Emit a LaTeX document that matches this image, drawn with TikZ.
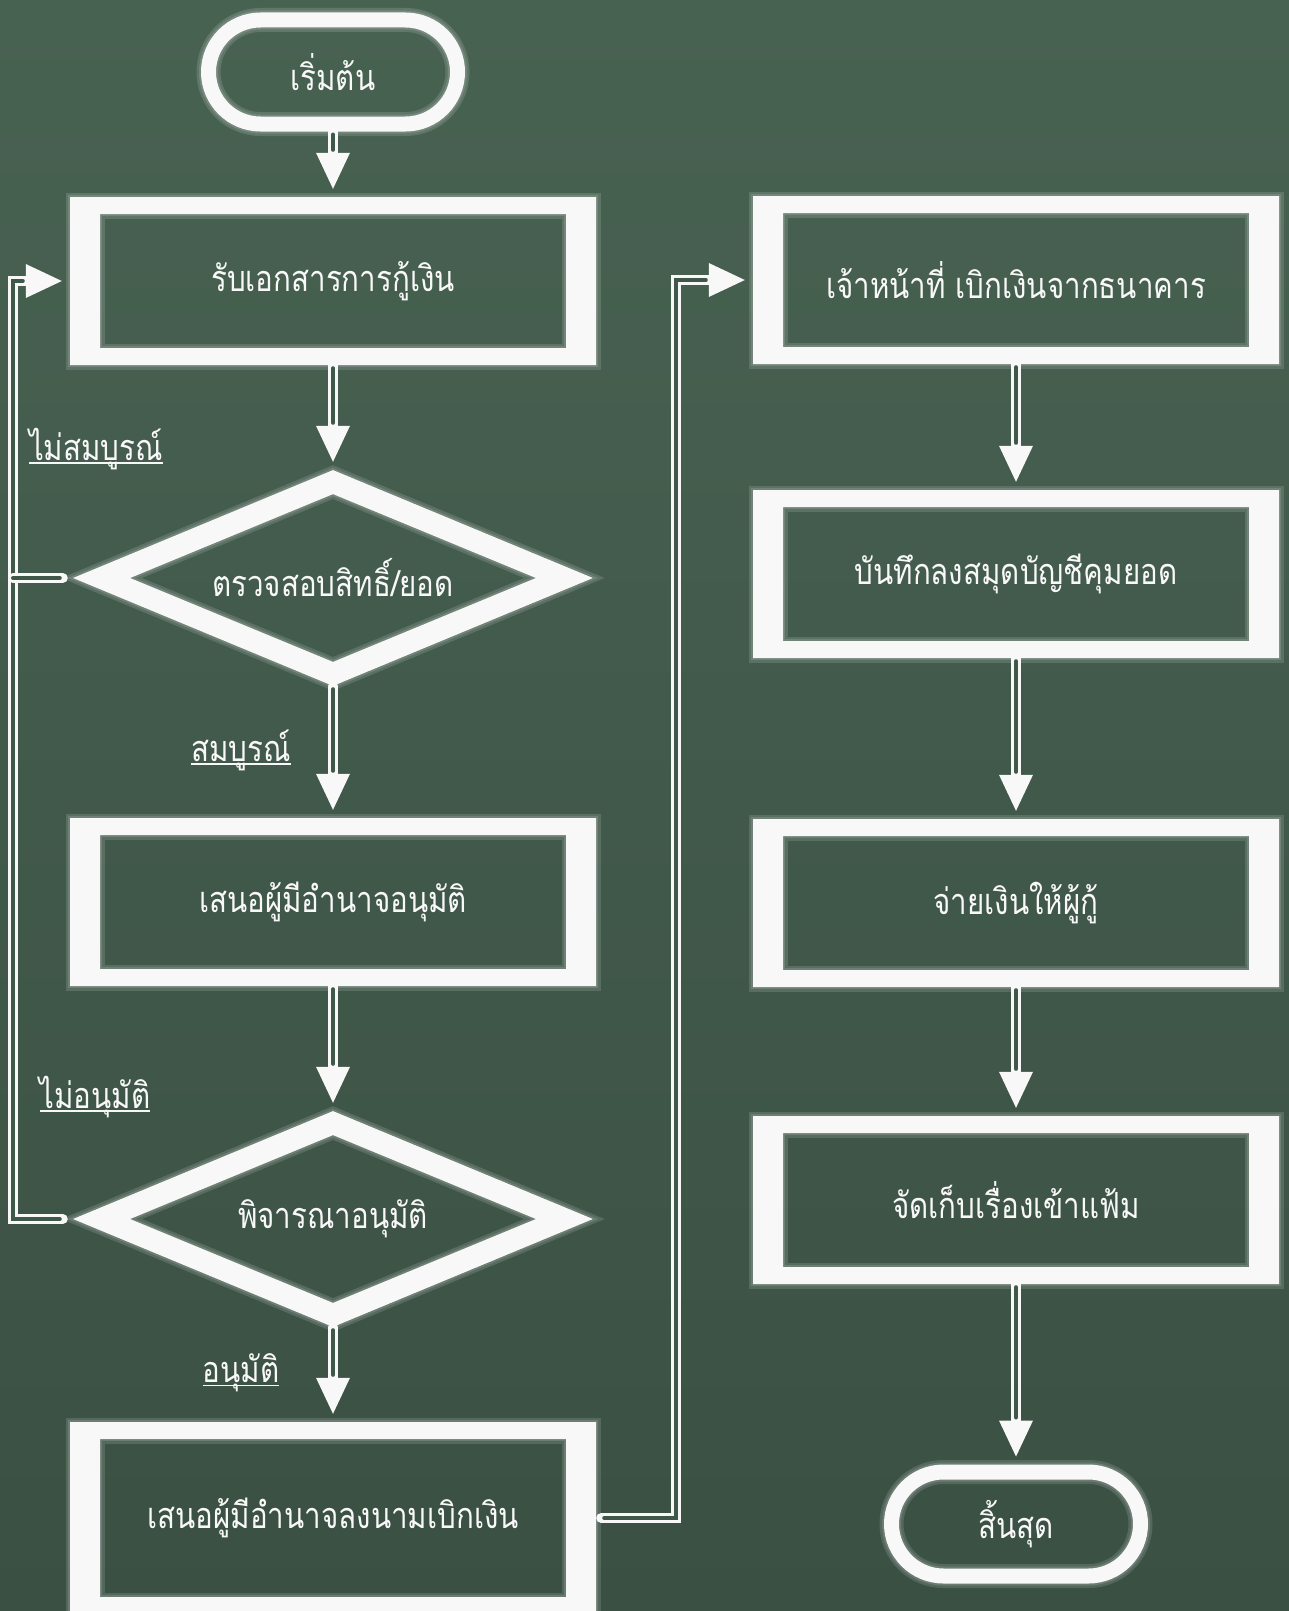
\documentclass[tikz,border=0pt]{standalone}
\usepackage{fontspec}
\newfontfamily\thaifont[Script=Thai,FakeStretch=0.82]{Loma}
\usetikzlibrary{shapes.geometric,arrows.meta}
\definecolor{board}{RGB}{64,88,74}
\definecolor{boardtop}{RGB}{72,98,82}
\definecolor{boardbot}{RGB}{58,80,67}
\definecolor{chalk}{RGB}{248,248,248}
\newcommand{\chalkul}[1]{\setbox0\hbox{#1}\rlap{\rule[-0.1em]{\wd0}{0.05em}}\box0}
\begin{document}
\begin{tikzpicture}[x=1pt,y=-1pt,
  every node/.style={font=\thaifont\fontsize{36}{40}\selectfont, text=chalk},
  halo/.style={draw=chalk, line width=#1, opacity=0.14},
  box/.style={rectangle, inner sep=0pt, minimum width=526pt, minimum height=168pt,
    preaction={halo=9pt}, preaction={halo=4pt},
    path picture={\fill[chalk,even odd rule]
      (path picture bounding box.north west) rectangle (path picture bounding box.south east)
      ([xshift=30pt,yshift=-17pt]path picture bounding box.north west) rectangle
      ([xshift=-30pt,yshift=17pt]path picture bounding box.south east);
      \foreach \w in {9pt,4pt}
      \draw[halo=\w]
      ([xshift=30pt,yshift=-17pt]path picture bounding box.north west) rectangle
      ([xshift=-30pt,yshift=17pt]path picture bounding box.south east);}},
  decision/.style={diamond, aspect=2.4, inner sep=0pt, minimum width=520pt, minimum height=216pt,
    preaction={halo=9pt}, preaction={halo=4pt},
    path picture={\fill[chalk,even odd rule]
      (path picture bounding box.north) -- (path picture bounding box.east) --
      (path picture bounding box.south) -- (path picture bounding box.west) -- cycle
      ([yshift=-24pt]path picture bounding box.north) -- ([xshift=-57pt]path picture bounding box.east) --
      ([yshift=24pt]path picture bounding box.south) -- ([xshift=57pt]path picture bounding box.west) -- cycle;
      \foreach \w in {9pt,4pt}
      \draw[halo=\w]
      ([yshift=-24pt]path picture bounding box.north) -- ([xshift=-57pt]path picture bounding box.east) --
      ([yshift=24pt]path picture bounding box.south) -- ([xshift=57pt]path picture bounding box.west) -- cycle;}},
  terminal/.style={rectangle, rounded corners=52pt, draw=chalk, line width=15pt,
    minimum width=249pt, minimum height=104pt, inner sep=0pt,
    preaction={halo=24pt}, preaction={halo=19pt}},
  conn/.style={draw=chalk, line width=10pt, line cap=round,
    -{Triangle[length=36pt,width=34pt,line width=0pt]}, shorten >=8pt, shorten <=#1,
    postaction={draw=board, line width=4pt, -, shorten >=47pt, shorten <=#1+3pt}},
  conn/.default=0pt,
  stub/.style={draw=chalk, line width=10pt, line cap=round, shorten <=#1,
    postaction={draw=board, line width=4pt, shorten <=#1+3pt}},
  stub/.default=0pt,
  lbl/.style={inner sep=0pt}
]
\useasboundingbox (0,0) rectangle (1289,1611);
\shade[top color=boardtop, bottom color=boardbot] (0,0) rectangle (1289,1611);

% left column
\node[terminal] (start) at (333,72) {เริ่มต้น};
\node[box] (b1) at (333,281) {รับเอกสารการกู้เงิน};
\node[decision] (d1) at (333,578) {ตรวจสอบสิทธิ์/ยอด};
\node[box] (b2) at (333,902) {เสนอผู้มีอำนาจอนุมัติ};
\node[decision] (d2) at (333,1219) {พิจารณาอนุมัติ};
\node[box, minimum height=192pt] (b3) at (333,1518) {เสนอผู้มีอำนาจลงนามเบิกเงิน};

% right column
\node[box] (b4) at (1016,280) {เจ้าหน้าที่ เบิกเงินจากธนาคาร};
\node[box] (b5) at (1016,574) {บันทึกลงสมุดบัญชีคุมยอด};
\node[box] (b6) at (1016,903) {จ่ายเงินให้ผู้กู้};
\node[box] (b7) at (1016,1200) {จัดเก็บเรื่องเข้าแฟ้ม};
\node[terminal] (stop) at (1016,1524) {สิ้นสุด};

% labels
\node[lbl] (l1) at (96,449) {\chalkul{ไม่สมบูรณ์}};
\node[lbl] (l2) at (241,750) {\chalkul{สมบูรณ์}};
\node[lbl] (l3) at (95,1097) {\chalkul{ไม่อนุมัติ}};
\node[lbl] (l4) at (241,1373) {\chalkul{อนุมัติ}};

\coordinate (lx) at (13,0);
\coordinate (rx) at (676,0);

% connectors
\draw[conn] (start.south) -- (b1.north);
\draw[conn] (b1.south) -- (d1.north);
\draw[conn] (d1.south) -- (b2.north);
\draw[conn] (b2.south) -- (d2.north);
\draw[conn] (d2.south) -- (b3.north);
\draw[conn] (b4.south) -- (b5.north);
\draw[conn] (b5.south) -- (b6.north);
\draw[conn] (b6.south) -- (b7.north);
\draw[conn] (b7.south) -- (stop.north);

\draw[conn=10pt] (d2.west) -- (d2.west -| lx) |- (b1.west);
\draw[stub=10pt] (d1.west) -- (d1.west -| lx);
\draw[conn=5pt] (b3.east) -- (b3.east -| rx) |- (b4.west);
\end{tikzpicture}
\end{document}
